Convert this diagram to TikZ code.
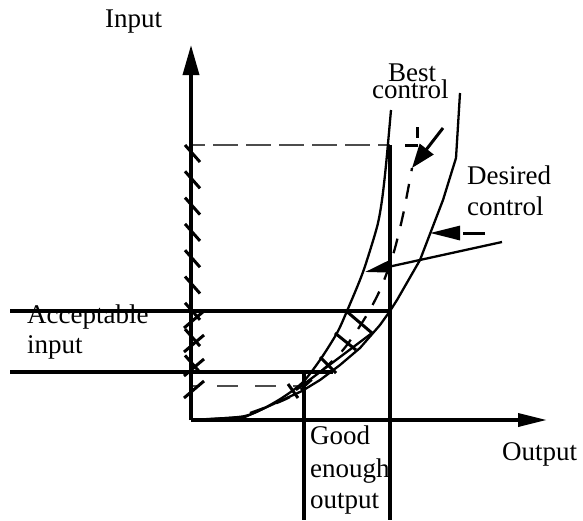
\documentclass[tikz,border=0pt]{standalone}
\usepackage{fontspec}
\setmainfont{Liberation Serif}
\usetikzlibrary{arrows.meta}
\begin{document}
\begin{tikzpicture}[x=1pt,y=-1pt,
  axis/.style={line width=3.6pt},
  guide/.style={line width=3.4pt},
  curve/.style={line width=2.3pt, line join=round},
  hatchmark/.style={line width=3pt},
  guidedash/.style={line width=1.4pt, black!70},
  lbl/.style={font=\fontsize{27}{27}\selectfont, inner sep=0pt, anchor=base west}]
\useasboundingbox (0,0) rectangle (583,520);

% key points
\coordinate (O) at (191,420);
\coordinate (ytip) at (191,45);
\coordinate (xtip) at (547,420);

% guide lines
\draw[guidedash, dash pattern=on 25pt off 8pt, dash phase=11pt] (191,145) -- (390,145);
\draw[guidedash, dash pattern=on 21pt off 17pt, dash phase=12pt] (191,386) -- (300,386);
\draw[line width=3pt] (405,145) -- (418,145);
\draw[line width=3pt] (417,127) -- (417,138);
\draw[guide] (10,311) -- (390,311);
\draw[guide] (10,372) -- (333,372);
\draw[guide] (390,145) -- (390,520);
\draw[guide] (304,372) -- (304,520);

% hatch marks on the input axis
\foreach \yy in {145,171.3,197.6,223.9,250.2,276.5,302.8,329.1,355.4}
  \draw[hatchmark] (185,\yy) -- (200,\yy+17);
\foreach \yy in {328,352,376,398}
  \draw[hatchmark] (184,\yy) -- (204,\yy-17);

% curves
\draw[curve] plot[smooth, tension=0.45] coordinates {(191,420) (245,416) (277,401) (302,383) (320,360) (337,333) (347,311) (363,272) (377,227) (382,200) (386,165) (391,110)};
\draw[curve] (191,420) -- (245,417) -- (302,391) -- (320,380) -- (340,365) -- (360,348) -- (380,325) -- (390,311) -- (397,300) -- (420,260) -- (443,200) -- (456,158) -- (460,93);
\draw[curve, dash pattern=on 15pt off 13pt] plot[smooth, tension=0.5] coordinates {(250,413) (290,397) (317,375) (343,350) (365,318) (380,290) (393,255) (403,215) (412,168)};
\draw[curve] (296,390) -- (372,333);
\draw[hatchmark] (345,310) -- (372,333);
\draw[hatchmark] (335,333) -- (356,350);
\draw[hatchmark] (320,357) -- (336,373);
\draw[hatchmark] (288,384) -- (298,398);

% axes
\draw[axis, -{Triangle[length=30pt,width=16pt]}] (O) -- (ytip);
\draw[axis, -{Triangle[length=29pt,width=13pt]}] (O) -- (xtip);

% pointer arrows
\coordinate (b1) at (443,128);
\coordinate (b2) at (412,168);
\draw[line width=3pt, -{Triangle[length=24pt,width=17pt]}] (b1) -- (b2);
\coordinate (d1) at (485,233);
\coordinate (d2) at (430,233);
\draw[line width=3pt, dash pattern=on 22pt off 60pt, -{Triangle[length=30pt,width=14pt]}] (d1) -- (d2);
\coordinate (e1) at (502,242);
\coordinate (e2) at (365,272);
\draw[line width=2.3pt, -{Triangle[length=26pt,width=12pt]}] (e1) -- (e2);

% labels
\node[lbl] (input) at (105,27) {Input};
\node[lbl] (best) at (388,81) {Best};
\node[lbl] (bestc) at (372,98) {control};
\node[lbl] (des) at (467,184) {Desired};
\node[lbl] (desc) at (467,215) {control};
\node[lbl] (acc) at (27,323) {Acceptable};
\node[lbl] (accin) at (27,353) {input};
\node[lbl] (good) at (310,444) {Good};
\node[lbl] (gooda) at (310,477) {enough};
\node[lbl] (goodb) at (310,508) {output};
\node[lbl] (out) at (502,460) {Output};
\end{tikzpicture}
\end{document}
